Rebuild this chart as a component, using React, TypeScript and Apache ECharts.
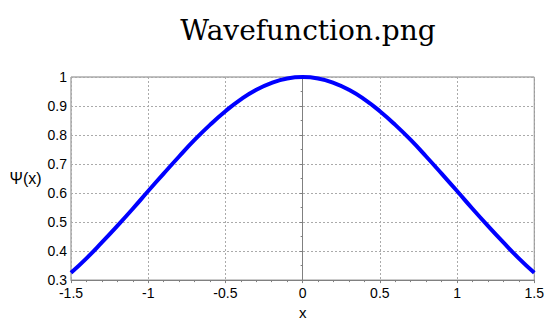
import React, { useEffect, useRef } from "react";
import * as echarts from "echarts";

const xValues = [-1.5, -1.4, -1.3, -1.2, -1.1, -1.0, -0.9, -0.8, -0.7, -0.6, -0.5, -0.4, -0.3, -0.2, -0.1, 0, 0.1, 0.2, 0.3, 0.4, 0.5, 0.6, 0.7, 0.8, 0.9, 1.0, 1.1, 1.2, 1.3, 1.4, 1.5];
const psiValues = [0.325, 0.375, 0.43, 0.487, 0.546, 0.607, 0.667, 0.726, 0.783, 0.835, 0.882, 0.923, 0.956, 0.98, 0.995, 1.0, 0.995, 0.98, 0.956, 0.923, 0.882, 0.835, 0.783, 0.726, 0.667, 0.607, 0.546, 0.487, 0.43, 0.375, 0.325];
const titleText = "Wavefunction.png";
const xLabel = "x";
const yLabel = "Ψ(x)";

export default function App() {
  const ref = useRef<HTMLDivElement>(null);
  useEffect(() => {
    document.body.style.margin = "0";
    const chart = echarts.init(ref.current!, null, { renderer: "svg" });
    const sans = "Liberation Sans";
    chart.setOption({
      animation: false,
      backgroundColor: "#ffffff",
      title: {
        text: titleText,
        left: 303,
        textAlign: "center",
        top: 11,
        textStyle: { fontFamily: "DejaVu Serif", fontWeight: "normal", fontSize: 28, color: "#000" },
      },
      grid: { left: 71, right: 12, top: 77, bottom: 44, show: true, borderColor: "#808080", borderWidth: 1 },
      xAxis: {
        type: "value",
        min: -1.5,
        max: 1.5,
        interval: 0.5,
        name: xLabel,
        nameLocation: "middle",
        nameGap: 24,
        nameTextStyle: { fontFamily: sans, fontSize: 15, color: "#000" },
        axisLine: { lineStyle: { color: "#808080" } },
        axisTick: { show: true, length: 3, lineStyle: { color: "#808080" } },
        minorTick: { show: true, splitNumber: 5, length: 2, lineStyle: { color: "#808080" } },
        axisLabel: { fontFamily: sans, fontSize: 14, color: "#000", margin: 6 },
        splitLine: { show: true, lineStyle: { color: "#aaa", type: [2, 2], width: 1 } },
      },
      yAxis: {
        type: "value",
        min: 0.3,
        max: 1,
        interval: 0.1,
        name: yLabel,
        nameLocation: "middle",
        nameGap: 21,
        nameRotate: 0,
        nameTextStyle: { fontFamily: sans, fontSize: 16, color: "#000", align: "right" },
        axisLine: { show: true, lineStyle: { color: "#808080" } },
        axisTick: { show: true, length: 3, lineStyle: { color: "#808080" } },
        minorTick: { show: true, splitNumber: 2, length: 2, lineStyle: { color: "#808080" } },
        axisLabel: { fontFamily: sans, fontSize: 14, color: "#000", margin: 4, formatter: (v: number) => String(Math.round(v * 10) / 10) },
        splitLine: { show: true, lineStyle: { color: "#aaa", type: [2, 2], width: 1 } },
      },
      series: [
        {
          type: "line",
          data: xValues.map((x, i) => [x, psiValues[i]]),
          smooth: true,
          showSymbol: false,
          lineStyle: { color: "#0000ff", width: 4 },
          clip: false,
        },
      ],
    });
    return () => chart.dispose();
  }, []);
  return <div ref={ref} style={{ width: 547, height: 325 }} />;
}
